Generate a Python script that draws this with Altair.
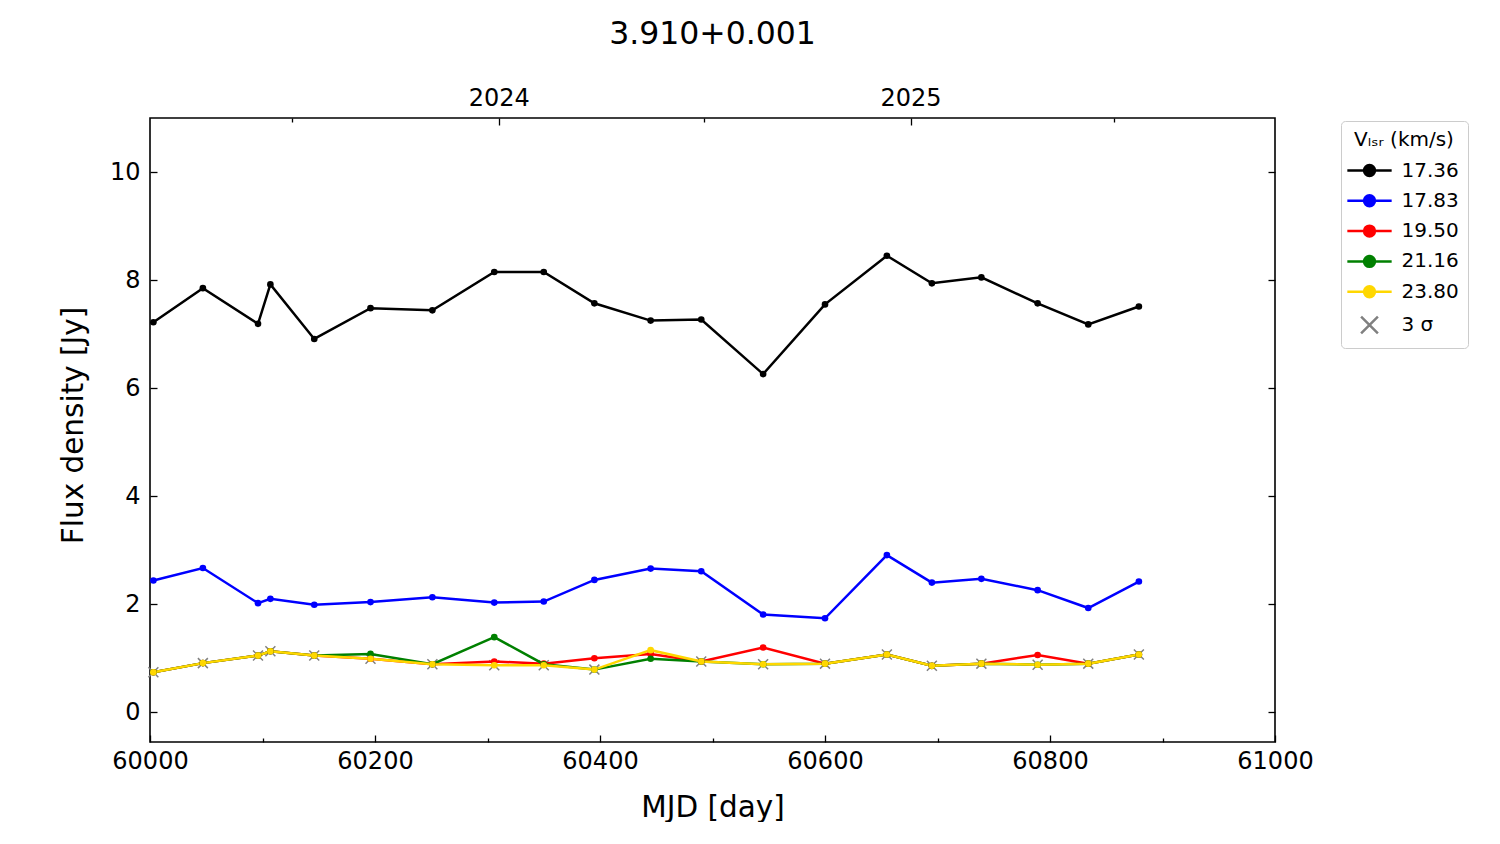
import altair as alt
import pandas as pd

# ---------------- data ----------------
mjd = [60003, 60047, 60096, 60107, 60146, 60196, 60251, 60306, 60350, 60395,
       60445, 60490, 60545, 60600, 60655, 60695, 60739, 60789, 60834, 60879]
flux_1736 = [7.22, 7.85, 7.19, 7.92, 6.91, 7.48, 7.44, 8.15, 8.15, 7.57,
             7.25, 7.27, 6.26, 7.55, 8.45, 7.94, 8.05, 7.57, 7.18, 7.51]
flux_1783 = [2.44, 2.67, 2.02, 2.10, 1.99, 2.04, 2.13, 2.03, 2.05, 2.45,
             2.66, 2.61, 1.81, 1.74, 2.91, 2.40, 2.47, 2.26, 1.93, 2.42]
flux_1950 = [0.74, 0.91, 1.05, 1.13, 1.05, 0.99, 0.89, 0.94, 0.90, 1.00,
             1.08, 0.94, 1.20, 0.90, 1.07, 0.86, 0.90, 1.06, 0.90, 1.07]
flux_2116 = [0.74, 0.91, 1.05, 1.13, 1.05, 1.08, 0.89, 1.39, 0.89, 0.79,
             0.99, 0.94, 0.89, 0.90, 1.07, 0.86, 0.90, 0.88, 0.90, 1.07]
flux_2380 = [0.74, 0.91, 1.05, 1.13, 1.05, 0.99, 0.89, 0.87, 0.87, 0.79,
             1.15, 0.94, 0.89, 0.90, 1.07, 0.86, 0.90, 0.88, 0.90, 1.07]
sigma3 = [0.74, 0.91, 1.05, 1.13, 1.05, 0.99, 0.89, 0.87, 0.87, 0.79,
          None, 0.94, 0.89, 0.90, 1.07, 0.86, 0.90, 0.88, 0.90, 1.07]

series_labels = ["17.36", "17.83", "19.50", "21.16", "23.80"]
series_values = [flux_1736, flux_1783, flux_1950, flux_2116, flux_2380]
series_colors = ["#000000", "#0000ff", "#ff0000", "#008000", "#ffd700"]
sigma_label = "3 σ"
sigma_color = "#808080"

x_major = [60000, 60200, 60400, 60600, 60800, 61000]
x_all = [60000, 60100, 60200, 60300, 60400, 60500, 60600, 60700, 60800, 60900, 61000]
y_ticks = [0, 2, 4, 6, 8, 10]
year_ticks = [60310, 60676]
year_labels = ["2024", "2025"]
year_minor = [60126, 60492, 60857]

title_text = "3.910+0.001"
legend_title = "Vₗₛᵣ (km/s)"

# ---------------- tables ----------------
rows = []
for lab, vals in zip(series_labels, series_values):
    for m, v in zip(mjd, vals):
        rows.append({"mjd": m, "flux": v, "label": lab})
df = pd.DataFrame(rows)
df_sigma = pd.DataFrame([{"mjd": m, "flux": v, "label": sigma_label}
                         for m, v in zip(mjd, sigma3) if v is not None])

# ---------------- geometry ----------------
W, H = 1125, 624
FONT = "DejaVu Sans"

dom = series_labels + [sigma_label]
rng = series_colors + [sigma_color]
LC = "M-2.77,0L2.77,0M-0.68,0A0.68,0.68 0 1,0 0.68,0A0.68,0.68 0 1,0 -0.68,0Z"
XP = "M-1.05,-1.05L1.05,1.05M-1.05,1.05L1.05,-1.05"
shape_rng = [LC] * len(series_labels) + [XP]

xscale = alt.Scale(domain=[60000, 61000], nice=False, zero=False)
yscale = alt.Scale(domain=[-0.55, 11], nice=False, zero=False)

legend = alt.Legend(title=legend_title, orient="none", legendX=1191, legendY=3,
                    titleAnchor="middle", symbolOpacity=1)

stroke_enc = alt.Stroke("label:N", scale=alt.Scale(domain=dom, range=rng), legend=legend)
fill_enc = alt.Fill("label:N", scale=alt.Scale(domain=dom, range=rng), legend=legend)
shape_enc = alt.Shape("label:N", scale=alt.Scale(domain=dom, range=shape_rng), legend=legend)

major_test = "indexof(" + str(x_major) + ", datum.value) >= 0"
year_test = "indexof(" + str(year_ticks) + ", datum.value) >= 0"
label_expr = " : ".join(
    [f"datum.value == {t} ? '{l}'" for t, l in zip(year_ticks, year_labels)] + ["''"])

# axes
ax_bottom = alt.Axis(orient="bottom", values=x_major, format="d", ticks=False, tickSize=0,
                     domain=False, grid=False, labelPadding=7, labelFontSize=24,
                     labelFlush=False, labelOverlap=False,
                     title="MJD [day]", titleFontSize=29.5, titlePadding=20,
                     titleFontWeight="normal")
ax_left = alt.Axis(orient="left", values=y_ticks, ticks=False, tickSize=0, domain=False,
                   grid=False, labelPadding=10, labelFontSize=24, labelFlush=False,
                   title="Flux density [Jy]", titleFontSize=29.5, titlePadding=21,
                   titleFontWeight="normal", titleY=307)
ax_bottom_in = alt.Axis(orient="top", offset=-H, values=x_all, labels=False, domain=False,
                        grid=False, title=None,
                        tickSize={"condition": {"test": major_test, "value": 7}, "value": 4})
ax_left_in = alt.Axis(orient="right", offset=-W, values=y_ticks, labels=False, domain=False,
                      grid=False, title=None, tickSize=7)
ax_top_lab = alt.Axis(orient="top", values=year_ticks, labelExpr=label_expr, ticks=False,
                      tickSize=0, domain=False, grid=False, labelPadding=8,
                      labelFontSize=24, labelFlush=False, title=None)
ax_right_in = alt.Axis(orient="left", offset=-W, values=y_ticks, labels=False, domain=False,
                       grid=False, title=None, tickSize=7)
ax_top_in = alt.Axis(orient="bottom", offset=-H, values=year_ticks + year_minor, labels=False,
                     domain=False, grid=False, title=None,
                     tickSize={"condition": {"test": year_test, "value": 7}, "value": 4})

sig = alt.Chart(df_sigma).mark_point(filled=False, size=90, strokeWidth=1.5, opacity=1).encode(
    x=alt.X("mjd:Q", scale=xscale, axis=ax_bottom),
    y=alt.Y("flux:Q", scale=yscale, axis=ax_left),
    shape=shape_enc,
    stroke=stroke_enc,
)

lines = alt.Chart(df).mark_line(strokeWidth=2.5).encode(
    x=alt.X("mjd:Q", scale=xscale, axis=ax_bottom_in),
    y=alt.Y("flux:Q", scale=yscale, axis=ax_left_in),
    stroke=stroke_enc,
)

pts = alt.Chart(df).mark_circle(size=44, opacity=1).encode(
    x=alt.X("mjd:Q", scale=xscale, axis=ax_top_lab),
    y=alt.Y("flux:Q", scale=yscale, axis=ax_right_in),
    fill=fill_enc,
)

carrier = alt.Chart(df_sigma).mark_point(opacity=0).encode(
    x=alt.X("mjd:Q", scale=xscale, axis=ax_top_in),
    y=alt.Y("flux:Q", scale=yscale, axis=None),
)

chart = alt.layer(sig, lines, pts, carrier).resolve_axis(
    x="independent", y="independent"
).properties(
    width=W, height=H,
    title=alt.TitleParams(title_text, fontSize=31.5, font=FONT, fontWeight="normal",
                          anchor="middle", offset=36),
    autosize=alt.AutoSizeParams(type="none"),
    padding={"left": 142, "top": 110, "right": 200, "bottom": 80},
).configure(
    font=FONT,
).configure_view(
    stroke="black", strokeWidth=1.6,
).configure_axis(
    labelFont=FONT, titleFont=FONT, tickColor="black", tickWidth=1.3,
    labelColor="black", titleColor="black",
).configure_legend(
    labelFont=FONT, titleFont=FONT, labelFontSize=20, titleFontSize=20,
    titleFontWeight="normal", symbolSize=256, symbolStrokeWidth=2.5,
    symbolOffset=9.5, labelOffset=22, rowPadding=8.3, padding=9, titlePadding=10.5,
    strokeColor="#cccccc", fillColor="white", cornerRadius=4,
    labelColor="black", titleColor="black", symbolOpacity=1,
)

chart.save("out.html", embed_options={"renderer": "svg", "actions": False})
